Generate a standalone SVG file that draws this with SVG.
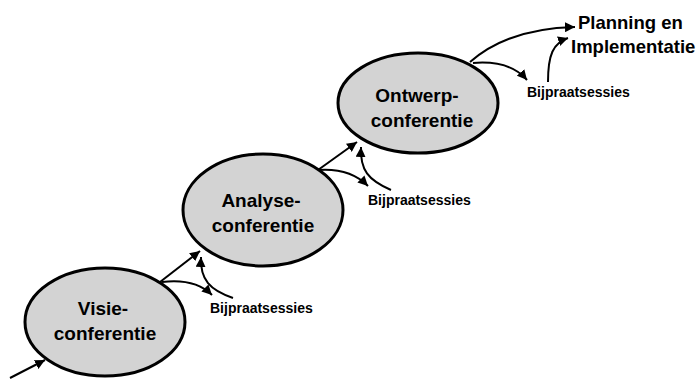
<svg xmlns="http://www.w3.org/2000/svg" width="700" height="379" viewBox="0 0 700 379">
<style>
.node ellipse{fill:#d3d3d3;stroke:#000;stroke-width:3}
.lbl{font-family:"Liberation Sans",Arial,sans-serif;font-weight:bold;font-size:19px;fill:#000;text-anchor:middle}
.small{font-family:"Liberation Sans",Arial,sans-serif;font-weight:bold;font-size:14px;fill:#000}
.big{font-family:"Liberation Sans",Arial,sans-serif;font-weight:bold;font-size:18.5px;fill:#000}
.conn path{fill:none;stroke:#000;stroke-width:2;marker-end:url(#arr)}
</style>
<defs>
<marker id="arr" markerUnits="userSpaceOnUse" markerWidth="12" markerHeight="10" refX="10" refY="5" orient="auto">
<path d="M0,0 L10,5 L0,10 Z" fill="#000"/>
</marker>
</defs>
<rect width="700" height="379" fill="#fff"/>
<g id="connectors" class="conn">
<path d="M 10 378 L 45 360"/>
<path d="M 160 282 L 200 251"/>
<path d="M 162 282 Q 195 278 212 295"/>
<path d="M 233 298 C 210 290 200 280 201 257"/>
<path d="M 318 170 L 357 142"/>
<path d="M 319 170 Q 350 168 368 186"/>
<path d="M 391 190 C 368 180 360 170 361 147"/>
<path d="M 470 62 C 495 40 530 28 575 27"/>
<path d="M 473 63 Q 510 60 527 80"/>
<path d="M 548 82 C 548 55 553 43 568 38"/>
</g>
<g id="visie" class="node">
<ellipse cx="105" cy="322" rx="80" ry="54"/>
<text class="lbl" x="103" y="315">Visie-</text>
<text class="lbl" x="105" y="340">conferentie</text>
</g>
<g id="analyse" class="node">
<ellipse cx="263" cy="210" rx="80" ry="56"/>
<text class="lbl" x="261" y="207">Analyse-</text>
<text class="lbl" x="263" y="232">conferentie</text>
</g>
<g id="ontwerp" class="node">
<ellipse cx="418" cy="103" rx="80" ry="50"/>
<text class="lbl" x="417" y="102">Ontwerp-</text>
<text class="lbl" x="422" y="127">conferentie</text>
</g>
<g id="bij1"><text class="small" x="210" y="313">Bijpraatsessies</text></g>
<g id="bij2"><text class="small" x="368" y="205">Bijpraatsessies</text></g>
<g id="bij3"><text class="small" x="527" y="97">Bijpraatsessies</text></g>
<g id="planning">
<text class="big" x="578" y="29">Planning en</text>
<text class="big" x="571" y="53">Implementatie</text>
</g>
</svg>
